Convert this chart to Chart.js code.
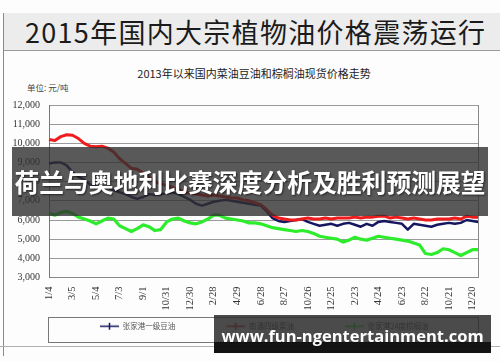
<!DOCTYPE html>
<html>
<head>
<meta charset="utf-8">
<script src="https://cdn.jsdelivr.net/npm/chart.js@4.4.1/dist/chart.umd.min.js"></script>
<style>
  html, body { margin: 0; padding: 0; background: #fff; }
  #page { position: relative; width: 500px; height: 362px; overflow: hidden; background: #fdfdfd; }
  #topbar { position: absolute; left: 3px; top: 13px; width: 497px; height: 37px; background: #ececec; border-bottom: 1px solid #9a9a9a; }
  #topbar span { position: absolute; left: 22px; top: -1px; line-height: 37px; font: 27px "Noto Sans CJK SC"; letter-spacing: 1.3px; color: #1b1b1b; white-space: nowrap; }
  #frameLeft { position: absolute; left: 3px; top: 13px; width: 1px; height: 343px; background: #8a8a8a; }
  #frameBottom { position: absolute; left: 0; top: 346px; width: 500px; height: 1px; background: #b0b0b0; }
  #ctitle { position: absolute; left: 0; width: 508px; top: 65px; line-height: 14px; text-align: center; font: 11px "Noto Sans CJK SC"; color: #222; white-space: nowrap; }
  #unit { position: absolute; left: 27px; top: 81px; line-height: 12px; font: 8.5px "Noto Sans CJK SC"; color: #444; white-space: nowrap; }
  canvas { position: absolute; left: 0; top: 0; }
  #banner { position: absolute; left: 12px; top: 147px; width: 476px; height: 69px; background: rgba(48,48,48,0.8); color: #fff; font: bold 24.8px "Noto Sans CJK SC"; text-align: center; line-height: 69px; white-space: nowrap; text-shadow: 1px 1px 2px rgba(0,0,0,0.6); }
  #mark { position: absolute; left: 214px; top: 315px; width: 277px; height: 38px; overflow: hidden; background: linear-gradient(rgba(45,45,45,0.86) 0, rgba(45,45,45,0.86) 72%, rgba(12,12,12,0.97) 72%); color: #fff; font: bold 16.5px "Open Sans"; text-align: center; line-height: 42px; white-space: nowrap; }
</style>
</head>
<body>
<div id="page">
  <div id="topbar"><span>2015年国内大宗植物油价格震荡运行</span></div>
  <div id="frameLeft"></div>
  <div id="frameBottom"></div>
  <div id="ctitle">2013年以来国内菜油豆油和棕榈油现货价格走势</div>
  <div id="unit">单位: 元/吨</div>
  <canvas id="c" width="500" height="362"></canvas>
  <div id="banner">荷兰与奥地利比赛深度分析及胜利预测展望</div>
  <div id="mark">www.fun-ngentertainment.com</div>
</div>

<script>
// sample dates, every 15 days from 2013-01-04 (every 4th one is a tick label)
var dates = [
  '1/4','1/19','2/3','2/18','3/5','3/20','4/4','4/19','5/4','5/19','6/3','6/18','7/3',
  '7/18','8/2','8/17','9/1','9/16','10/1','10/16','10/31','11/15','11/30','12/15','12/30',
  '1/14','1/29','2/13','2/28','3/15','3/30','4/14','4/29','5/14','5/29','6/13','6/28',
  '7/13','7/28','8/12','8/27','9/11','9/26','10/11','10/26','11/10','11/25','12/10','12/25',
  '1/9','1/24','2/8','2/23','3/10','3/25','4/9','4/24','5/9','5/24','6/8','6/23',
  '7/8','7/23','8/7','8/22','9/6','9/21','10/6','10/21','11/5','11/20','12/5','12/20',
  '1/4'
];

var seriesNames = ['张家港一级豆油', '南通四级菜油', '张家港24度棕榈油'];
var seriesColors = ['#161660', '#ee1c1c', '#2cec2c'];

// 张家港一级豆油 (元/吨)
var soyOil = [
  8950, 9000, 9000, 8850, 8500, 8250, 8100, 7850, 7750, 7600,
  7700, 7550, 7450, 7350, 7200, 7100, 7200, 7350, 7300, 7350,
  7400, 7450, 7350, 7200, 7050, 6850, 6750, 6850, 6950, 7000,
  7050, 7000, 6950, 6900, 6850, 6800, 6750, 6450, 6100, 5950,
  5900, 5950, 6000, 6050, 5900, 5800, 5700, 5750, 5800, 5700,
  5800, 5850, 5750, 5650, 5800, 5700, 5900, 5950, 5900, 5850,
  5800, 5500, 5800, 5750, 5700, 5650, 5750, 5800, 5850, 5800,
  5850, 6000, 5950, 5900
];

// 南通四级菜油 (元/吨)
var rapeOil = [
  10200, 10150, 10350, 10450, 10420, 10250, 10000, 9850, 9820, 9850,
  9750, 9550, 9200, 8950, 8700, 8650, 8450, 8250, 8000, 7900,
  7800, 7700, 7600, 7450, 7400, 7350, 7300, 7250, 7300, 7250,
  7200, 7150, 7150, 7050, 7000, 6900, 6800, 6550, 6250, 6100,
  6050, 6000, 6000, 6050, 6100, 6050, 6050, 6100, 6050, 6100,
  6100, 6100, 6150, 6100, 6150, 6150, 6200, 6200, 6100, 6150,
  6100, 6050, 6100, 6050, 6000, 6000, 6050, 6050, 6050, 6100,
  6050, 6200, 6150, 6150
];

// 张家港24度棕榈油 (元/吨)
var palmOil = [
  6350, 6250, 6400, 6450, 6350, 6150, 6050, 5950, 5800, 5950,
  6100, 6050, 5700, 5550, 5400, 5550, 5750, 5650, 5450, 5500,
  5900, 6050, 6100, 5950, 5850, 5800, 5900, 6050, 6250, 6250,
  6100, 6050, 6000, 5950, 5850, 5850, 5800, 5700, 5600, 5550,
  5500, 5450, 5400, 5450, 5400, 5300, 5150, 5100, 5050, 5000,
  4850, 4950, 5100, 5000, 4950, 5050, 5150, 5100, 5050, 5000,
  4950, 4900, 4800, 4700, 4250, 4200, 4300, 4500, 4450, 4300,
  4150, 4300, 4450, 4450
];

// legend marker: line with a "+" (drawn at the right end of a wide image)
function makeMarker(color) {
  var m = document.createElement('canvas');
  m.width = 66; m.height = 9;
  var g = m.getContext('2d');
  g.strokeStyle = color;
  g.lineWidth = 1.5;
  g.beginPath();
  g.moveTo(47, 4.5); g.lineTo(66, 4.5);
  g.moveTo(56.5, 1); g.lineTo(56.5, 8);
  g.stroke();
  return m;
}
var markers = seriesColors.map(makeMarker);

var frame = {
  id: 'frame',
  afterDraw: function(chart) {
    var ctx = chart.ctx, a = chart.chartArea, lg = chart.legend;
    ctx.save();
    ctx.strokeStyle = '#8a8a8a';
    ctx.lineWidth = 1;
    ctx.beginPath();
    ctx.moveTo(Math.round(a.right) + 0.5, a.top);
    ctx.lineTo(Math.round(a.right) + 0.5, a.bottom);
    ctx.stroke();
    ctx.strokeStyle = '#777';
    ctx.strokeRect(Math.round(a.left) - 0.5, Math.round(lg.top) - 1.5, Math.round(a.right - a.left) + 1, Math.round(lg.bottom - lg.top) + 3);
    ctx.restore();
  }
};

new Chart(document.getElementById('c'), {
  type: 'line',
  data: {
    labels: dates,
    datasets: [
      { label: seriesNames[0], data: soyOil, borderColor: seriesColors[0], borderWidth: 2.5, order: 1 },
      { label: seriesNames[1], data: rapeOil, borderColor: seriesColors[1], borderWidth: 3, order: 0 },
      { label: seriesNames[2], data: palmOil, borderColor: seriesColors[2], borderWidth: 3.2, order: 2 }
    ]
  },
  options: {
    responsive: false,
    animation: false,
    devicePixelRatio: 1,
    elements: { point: { radius: 0 }, line: { tension: 0, borderJoinStyle: 'round' } },
    layout: { padding: { top: 105, right: 18, bottom: 22, left: 0 } },
    plugins: {
      title: { display: false },
      tooltip: { enabled: false },
      legend: {
        position: 'bottom',
        align: 'start',
        fullSize: false,
        labels: {
          usePointStyle: true,
          pointStyleWidth: 66,
          padding: 4,
          color: '#555',
          font: { family: '"Noto Sans CJK SC"', size: 7.5 },
          sort: function(a, b) { return a.datasetIndex - b.datasetIndex; },
          generateLabels: function(chart) {
            var items = Chart.defaults.plugins.legend.labels.generateLabels(chart);
            items.forEach(function(it) { it.pointStyle = markers[it.datasetIndex]; });
            return items;
          }
        }
      }
    },
    scales: {
      x: {
        grid: { display: false, drawTicks: false },
        border: { color: '#888' },
        ticks: {
          autoSkip: false, minRotation: 90, maxRotation: 90, padding: 9,
          color: '#333', font: { family: '"Liberation Serif"', size: 10.5 },
          callback: function(v, i) { return i % 4 === 0 ? this.getLabelForValue(v) : ''; }
        },
        afterFit: function(s) { s.height = 41; }
      },
      y: {
        min: 3000, max: 12000,
        grid: { color: '#9a9a9a', drawTicks: false },
        border: { color: '#777' },
        ticks: {
          stepSize: 1000, padding: 9, color: '#333',
          font: { family: '"Liberation Serif"', size: 10 },
          callback: function(v) { return v.toLocaleString('en-US'); }
        },
        afterFit: function(s) { s.width = 49; }
      }
    }
  },
  plugins: [frame]
});
</script>
</body>
</html>
